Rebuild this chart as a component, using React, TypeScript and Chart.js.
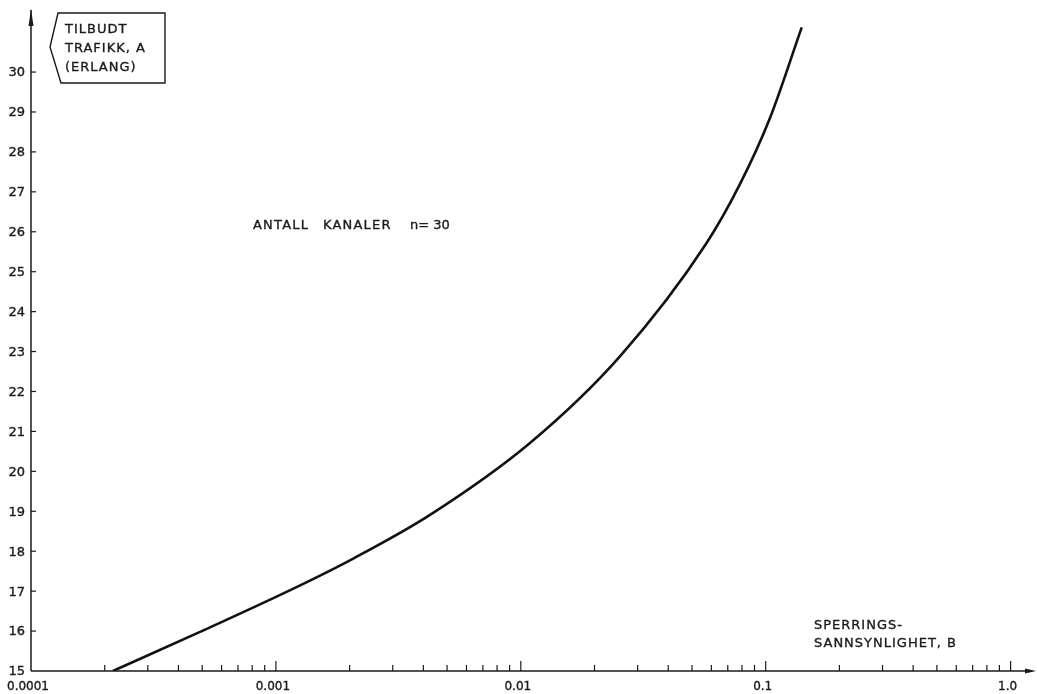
import React, { useEffect, useRef } from "react";
import { Chart, registerables } from "chart.js";

Chart.register(...registerables);

// Erlang-B curve for 30 channels: blocking probability B vs offered traffic A
const blocking = [0.000216, 0.00049, 0.00125, 0.00206, 0.00426, 0.0109, 0.0254, 0.0571, 0.0783, 0.1038, 0.1403];
const traffic = [15.0, 15.98, 17.14, 17.81, 18.91, 20.71, 22.88, 25.7, 27.18, 28.83, 31.12];

const yTicks = [15, 16, 17, 18, 19, 20, 21, 22, 23, 24, 25, 26, 27, 28, 29, 30];
const xDecades = [0.0001, 0.001, 0.01, 0.1, 1];
const xDecadeLabels = ["0.0001", "0.001", "0.01", "0.1", "1.0"];
const minorMultipliers = [2, 3, 4, 5, 6, 7, 8, 9];

const yAxisTitle = ["TILBUDT", "TRAFIKK, A", "(ERLANG)"];
const xAxisTitle = ["SPERRINGS-", "SANNSYNLIGHET, B"];
const channelWords = ["ANTALL", "KANALER", "n= 30"];

const INK = "#1a1a1a";
const FONT = "'DejaVu Sans', 'Liberation Sans', sans-serif";

// lettering with a hairline outline so it reads like pen-drawn text
function letter(ctx: CanvasRenderingContext2D, text: string, x: number, y: number) {
  ctx.fillText(text, x, y);
  ctx.strokeText(text, x, y);
}

const axesPlugin = {
  id: "draftingAxes",
  afterDraw(chart: any) {
    const ctx = chart.ctx as CanvasRenderingContext2D;
    const xs = chart.scales.x;
    const ys = chart.scales.y;
    const area = chart.chartArea;
    const x0 = xs.getPixelForValue(xDecades[0]);
    const y0 = ys.getPixelForValue(yTicks[0]);

    ctx.save();
    ctx.strokeStyle = INK;
    ctx.fillStyle = INK;
    ctx.lineWidth = 1.5;
    ctx.lineCap = "butt";

    // vertical axis with arrow head
    ctx.beginPath();
    ctx.moveTo(x0, y0);
    ctx.lineTo(x0, area.top + 2);
    ctx.stroke();
    ctx.beginPath();
    ctx.moveTo(x0, area.top + 1);
    ctx.lineTo(x0 - 2.5, area.top + 18);
    ctx.lineTo(x0 + 2.5, area.top + 18);
    ctx.closePath();
    ctx.fill();

    // horizontal axis with arrow head
    const xEnd = chart.width - 1;
    ctx.beginPath();
    ctx.moveTo(x0, y0);
    ctx.lineTo(xEnd - 4, y0);
    ctx.stroke();
    ctx.beginPath();
    ctx.moveTo(xEnd, y0);
    ctx.lineTo(xEnd - 11, y0 - 2.5);
    ctx.lineTo(xEnd - 11, y0 + 2.5);
    ctx.closePath();
    ctx.fill();

    // y ticks
    ctx.lineWidth = 1.2;
    yTicks.forEach((v) => {
      if (v === yTicks[0]) return;
      const y = ys.getPixelForValue(v);
      ctx.beginPath();
      ctx.moveTo(x0, y);
      ctx.lineTo(x0 + 5, y);
      ctx.stroke();
    });

    // x ticks: tall at decades, short in between
    xDecades.forEach((d, i) => {
      const xd = xs.getPixelForValue(d);
      if (i > 0) {
        ctx.beginPath();
        ctx.moveTo(xd, y0);
        ctx.lineTo(xd, y0 - 10);
        ctx.stroke();
      }
      if (i < xDecades.length - 1) {
        minorMultipliers.forEach((m) => {
          const xm = xs.getPixelForValue(d * m);
          ctx.beginPath();
          ctx.moveTo(xm, y0);
          ctx.lineTo(xm, y0 - 6);
          ctx.stroke();
        });
      }
    });

    ctx.lineWidth = 0.35;

    // y tick labels
    ctx.font = `13px ${FONT}`;
    ctx.textAlign = "right";
    ctx.textBaseline = "middle";
    yTicks.forEach((v) => {
      letter(ctx, String(v), x0 - 6, ys.getPixelForValue(v) + 1);
    });

    // x tick labels
    ctx.font = `12px ${FONT}`;
    ctx.textAlign = "center";
    ctx.textBaseline = "alphabetic";
    xDecades.forEach((d, i) => {
      letter(ctx, xDecadeLabels[i], xs.getPixelForValue(d) - 3, y0 + 19);
    });

    // y-axis title in a pointed box
    ctx.lineWidth = 1.4;
    ctx.beginPath();
    ctx.moveTo(x0 + 27, 13);
    ctx.lineTo(x0 + 134, 13);
    ctx.lineTo(x0 + 134, 83);
    ctx.lineTo(x0 + 30, 83);
    ctx.lineTo(x0 + 19, 47);
    ctx.closePath();
    ctx.fillStyle = "#ffffff";
    ctx.fill();
    ctx.stroke();
    ctx.fillStyle = INK;
    ctx.lineWidth = 0.35;
    (ctx as any).letterSpacing = "1px";
    ctx.font = `13px ${FONT}`;
    ctx.textAlign = "left";
    yAxisTitle.forEach((line, i) => {
      letter(ctx, line, x0 + 34, 33 + i * 19);
    });

    // x-axis title
    xAxisTitle.forEach((line, i) => {
      letter(ctx, line, 814, 629 + i * 18);
    });

    // channel count annotation
    (ctx as any).letterSpacing = "1.2px";
    letter(ctx, channelWords[0], 253, 229);
    letter(ctx, channelWords[1], 323, 229);
    (ctx as any).letterSpacing = "0px";
    letter(ctx, channelWords[2], 410, 229);

    ctx.restore();
  },
};

export default function App() {
  const canvasRef = useRef<HTMLCanvasElement | null>(null);

  useEffect(() => {
    const canvas = canvasRef.current;
    if (!canvas) return;
    const chart = new Chart(canvas, {
      type: "line",
      data: {
        datasets: [
          {
            data: blocking.map((b, i) => ({ x: b, y: traffic[i] })),
            borderColor: "#121212",
            borderWidth: 2.6,
            pointRadius: 0,
            fill: false,
            cubicInterpolationMode: "monotone",
          },
        ],
      },
      options: {
        responsive: false,
        animation: false,
        devicePixelRatio: 1,
        layout: { padding: { left: 31, right: 7, top: 8, bottom: 23 } },
        plugins: {
          legend: { display: false },
          tooltip: { enabled: false },
          title: { display: false },
        },
        scales: {
          x: { type: "logarithmic", min: 0.0001, max: 1.2, display: false },
          y: { type: "linear", min: 15, max: 31.604, display: false },
        },
      },
      plugins: [axesPlugin],
    });
    return () => chart.destroy();
  }, []);

  return (
    <div style={{ position: "absolute", left: 0, top: 0, width: 1037, height: 694, background: "#ffffff" }}>
      <canvas ref={canvasRef} width={1037} height={694} style={{ display: "block" }} />
    </div>
  );
}
